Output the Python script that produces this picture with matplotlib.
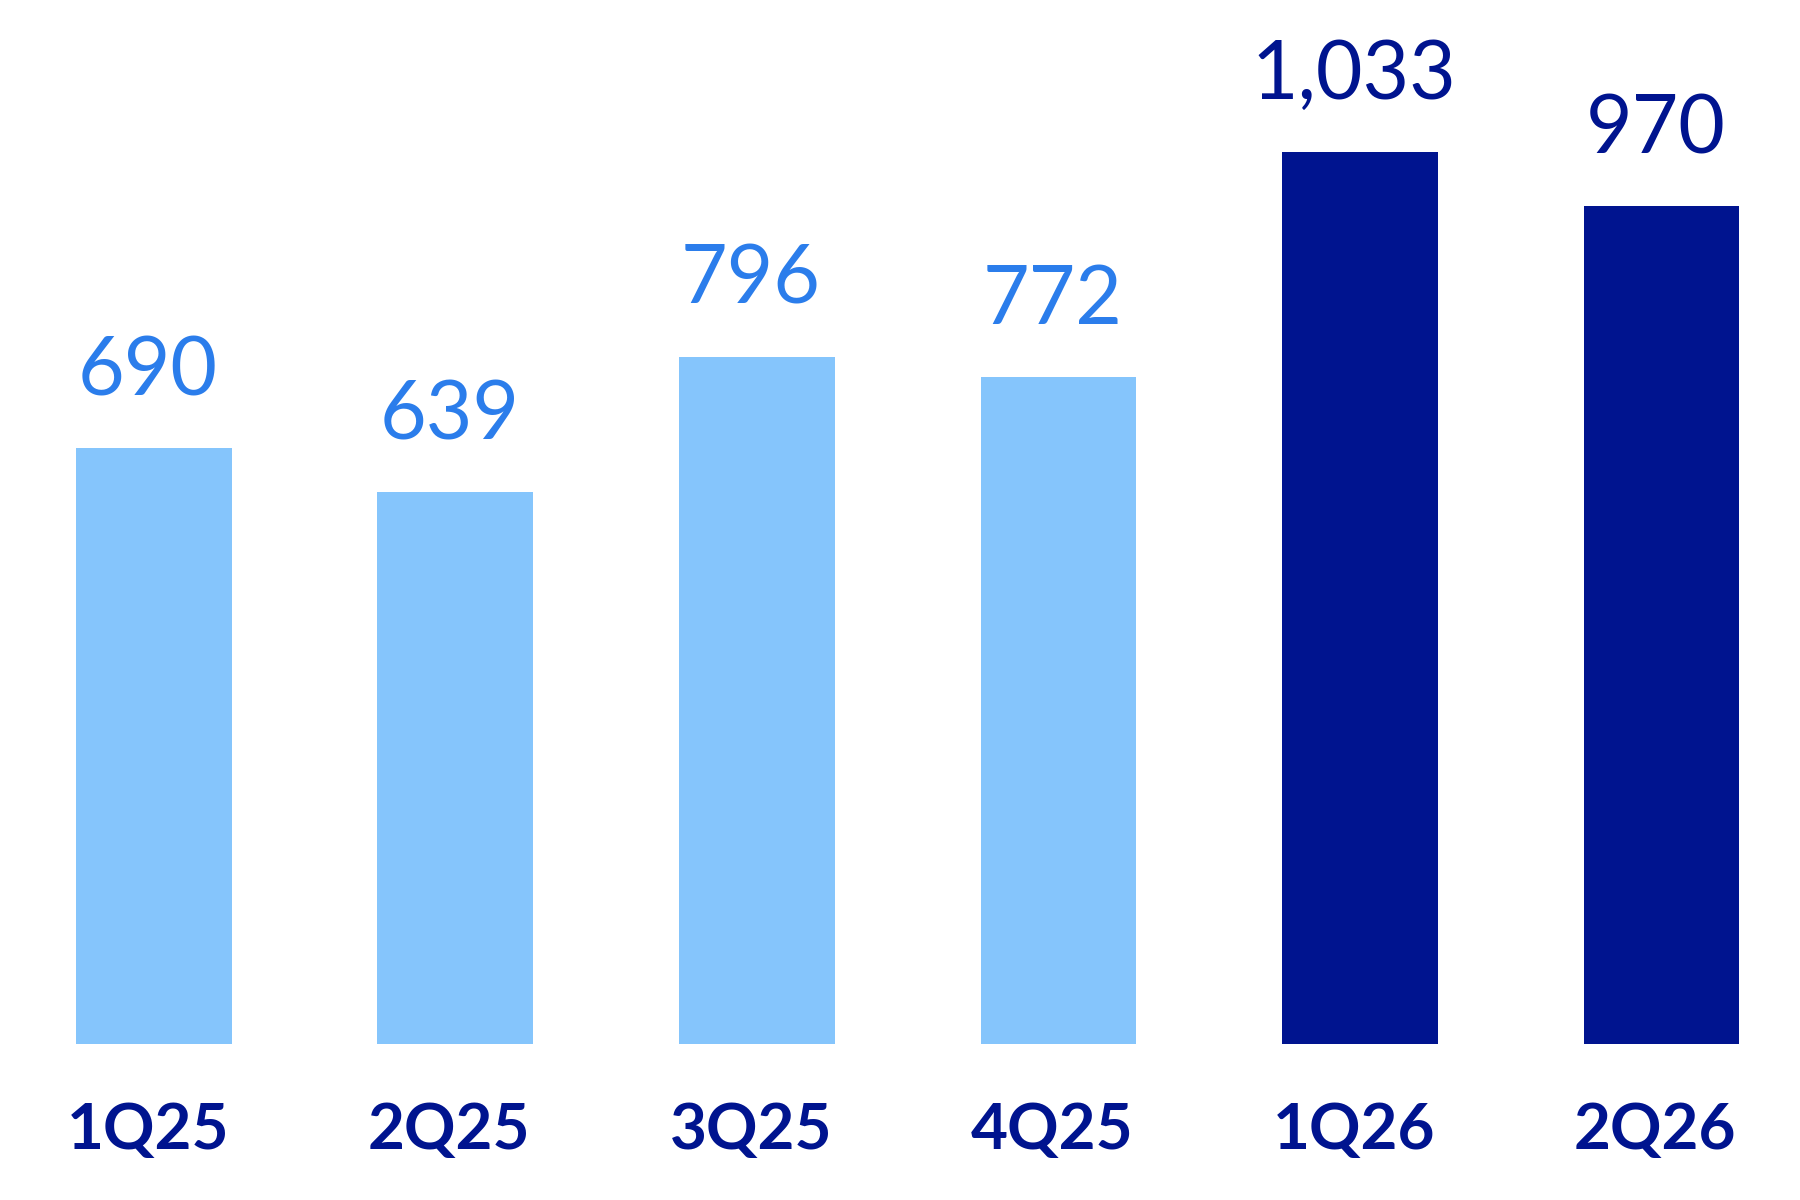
import matplotlib.pyplot as plt

quarters = ["1Q25", "2Q25", "3Q25", "4Q25", "1Q26", "2Q26"]
values = [690, 639, 796, 772, 1033, 970]
labels = ["690", "639", "796", "772", "1,033", "970"]

light_bar = "#85C5FC"
light_text = "#2B7DEB"
dark = "#00148F"
bar_colors = [light_bar] * 4 + [dark] * 2
text_colors = [light_text] * 4 + [dark] * 2

fig = plt.figure(figsize=(18, 12), dpi=100)
ax = fig.add_axes([0, 0, 1, 1])
x = range(len(quarters))
ax.bar(x, values, width=0.516, color=bar_colors)

for i, v in enumerate(values):
    ax.text(i - 0.02, v + 45, labels[i], ha="center", va="bottom",
            fontsize=58, color=text_colors[i], family="Lato")
    ax.text(i - 0.02, -100, quarters[i], ha="center", va="center",
            fontsize=46, color=dark, family="Lato", fontweight="bold")

ax.set_xlim(-0.51, 5.46)
ax.set_ylim(-181, 1209)
ax.axis("off")
fig.savefig("out.png", dpi=100)
